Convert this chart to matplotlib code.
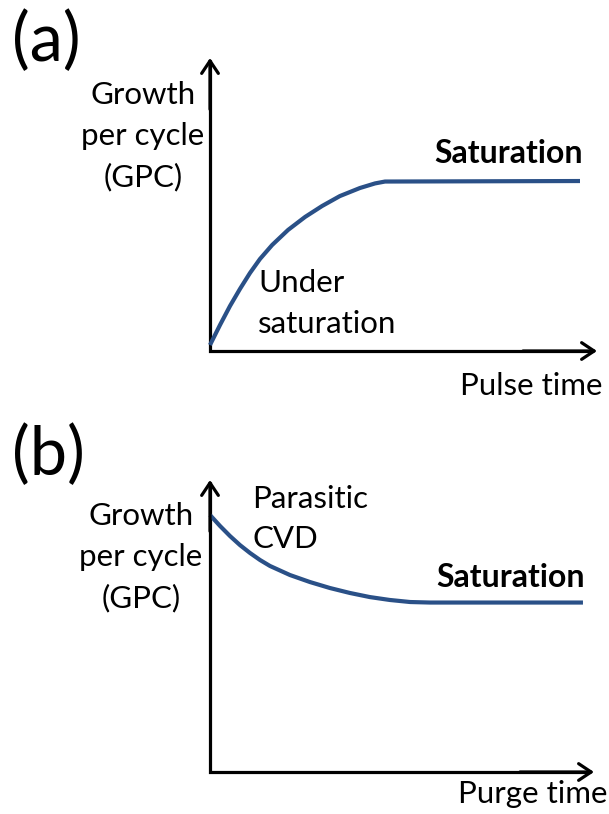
import matplotlib
matplotlib.use("Agg")
import matplotlib.pyplot as plt

plt.rcParams['font.family'] = ['Lato', 'DejaVu Sans']

# ---- data (arbitrary units) ----
# (a) GPC vs pulse time
pulse_time = [0.000, 0.027, 0.054, 0.081, 0.108, 0.135, 0.168, 0.211, 0.257,
              0.303, 0.351, 0.405, 0.446, 0.473, 1.000]
gpc_a = [0.035, 0.152, 0.263, 0.363, 0.456, 0.538, 0.620, 0.708, 0.784,
         0.848, 0.906, 0.953, 0.980, 0.991, 0.994]
# (b) GPC vs purge time
purge_time = [0.000, 0.027, 0.054, 0.081, 0.108, 0.135, 0.162, 0.216, 0.270,
              0.324, 0.378, 0.432, 0.486, 0.541, 0.595, 1.008]
gpc_b = [1.503, 1.439, 1.380, 1.327, 1.281, 1.240, 1.205, 1.152, 1.111,
         1.076, 1.047, 1.023, 1.006, 0.994, 0.991, 0.991]

panel_labels = ['(a)', '(b)']
x_labels = ['Pulse time', 'Purge time']
y_label_lines = ['Growth', 'per cycle', '(GPC)']

W, H = 609, 814
fig = plt.figure(figsize=(W / 100, H / 100), dpi=100)
fig.patch.set_facecolor('white')

curve_color = '#2a5087'
PX_X = 370.0   # pixels per x unit
PX_Y = 171.0   # pixels per y unit
FS = 22.5
FSB = 23


def make_axes(origin_px, origin_py):
    w_px, h_px = 400, 305
    ax = fig.add_axes([origin_px / W, 1 - origin_py / H, w_px / W, h_px / H])
    ax.set_xlim(0, w_px / PX_X)
    ax.set_ylim(0, h_px / PX_Y)
    ax.axis('off')
    return ax


def draw_axes_arrows(ax, xtip, ytip):
    ax.plot([0, 0, xtip - 0.01], [ytip - 0.01, 0, 0], color='black', lw=2.3,
            solid_joinstyle='miter', solid_capstyle='butt', clip_on=False)
    ap = dict(arrowstyle='->,head_length=0.45,head_width=0.3', lw=2.3, color='black',
              shrinkA=0, shrinkB=0, mutation_scale=20)
    ax.annotate('', xy=(0, ytip), xytext=(0, ytip - 0.3), arrowprops=ap, annotation_clip=False)
    ax.annotate('', xy=(xtip, 0), xytext=(xtip - 0.2, 0), arrowprops=ap, annotation_clip=False)


def ftext(x, y, s, **kw):
    fig.text(x / W, 1 - y / H, s, **kw)


# ---- panel (a) ----
ax1 = make_axes(210, 351)
draw_axes_arrows(ax1, (597 - 210) / PX_X, (351 - 58) / PX_Y)
ax1.plot(pulse_time, gpc_a, color=curve_color, lw=3.0, solid_capstyle='butt',
         solid_joinstyle='round', clip_on=False)

ftext(12, 42, panel_labels[0], fontsize=48, va='center', ha='left')
for i, line in enumerate(y_label_lines):
    ftext(143, 104 + 41 * i, line, fontsize=FS, ha='center', va='baseline')
ftext(434, 163, 'Saturation', fontsize=FSB, fontweight='bold', ha='left', va='baseline')
ftext(258, 292, 'Under', fontsize=FS, ha='left', va='baseline')
ftext(258, 333, 'saturation', fontsize=FS, ha='left', va='baseline')
ftext(602, 395, x_labels[0], fontsize=FS, ha='right', va='baseline')

# ---- panel (b) ----
ax2 = make_axes(210, 772)
draw_axes_arrows(ax2, (594 - 210) / PX_X, (772 - 480) / PX_Y)
ax2.plot(purge_time, gpc_b, color=curve_color, lw=3.0, solid_capstyle='butt',
         solid_joinstyle='round', clip_on=False)

ftext(12, 456, panel_labels[1], fontsize=48, va='center', ha='left')
for i, line in enumerate(y_label_lines):
    ftext(141, 525 + 41 * i, line, fontsize=FS, ha='center', va='baseline')
ftext(252, 508, 'Parasitic', fontsize=FS, ha='left', va='baseline')
ftext(252, 548, 'CVD', fontsize=FS, ha='left', va='baseline')
ftext(436, 587, 'Saturation', fontsize=FSB, fontweight='bold', ha='left', va='baseline')
ftext(607, 803, x_labels[1], fontsize=FS, ha='right', va='baseline')

fig.savefig('out.png', dpi=100, facecolor='white')
